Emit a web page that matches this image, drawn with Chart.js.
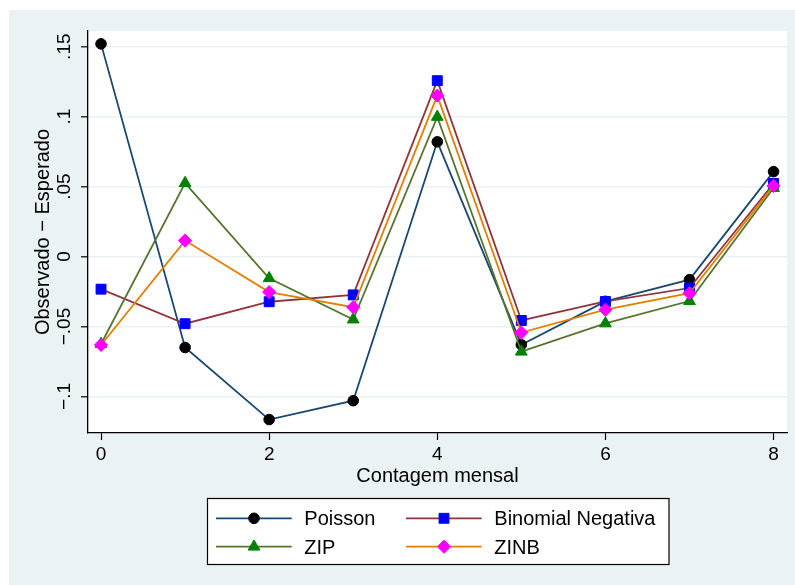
<!DOCTYPE html>
<html>
<head>
<meta charset="utf-8">
<script src="https://cdn.jsdelivr.net/npm/chart.js@4"></script>
<style>
  html, body { margin: 0; padding: 0; background: #ffffff; }
  #wrap { position: absolute; left: 9px; top: 10px; width: 786px; height: 575px; background: #EAF2F3; }
</style>
</head>
<body>
<div id="wrap"><canvas id="residChart" width="786" height="575"></canvas></div>
<script>
// observed - expected by monthly count, four count models
const contagem = [0, 1, 2, 3, 4, 5, 6, 7, 8];
const poisson = [0.152, -0.065, -0.1165, -0.103, 0.082, -0.063, -0.032, -0.0165, 0.0607];
const binomialNeg = [-0.0233, -0.048, -0.0323, -0.0274, 0.1257, -0.0457, -0.0321, -0.0225, 0.0522];
const zip = [-0.0625, 0.0525, -0.0155, -0.045, 0.0998, -0.068, -0.0478, -0.0318, 0.049];
const zinb = [-0.0632, 0.0114, -0.0254, -0.0362, 0.115, -0.0543, -0.038, -0.0262, 0.0505];

const xTicks = [0, 2, 4, 6, 8];
const yTicks = [-0.1, -0.05, 0, 0.05, 0.1, 0.15];
const yTickLabels = ['\u2212.1', '\u2212.05', '0', '.05', '.1', '.15'];

const FONT = '"Liberation Sans", Arial, sans-serif';

function pts(values) {
    return contagem.map((c, i) => ({ x: c, y: values[i] }));
}

const series = [
    { label: 'Poisson', data: poisson, line: '#1A476F', marker: '#000000', style: 'circle', radius: 5.3 },
    { label: 'Binomial Negativa', data: binomialNeg, line: '#90353B', marker: '#0000FF', style: 'rect', radius: 7 },
    { label: 'ZIP', data: zip, line: '#55752F', marker: '#008000', style: 'triangle', radius: 6.8 },
    { label: 'ZINB', data: zinb, line: '#E37E00', marker: '#FF00FF', style: 'rectRot', radius: 6.6 }
];

// white plot region, y tick labels, axis titles and the boxed legend
const decorPlugin = {
    id: 'decor',
    beforeDraw(chart) {
        const { ctx, chartArea: a } = chart;
        ctx.save();
        ctx.fillStyle = '#EAF2F3';
        ctx.fillRect(0, 0, chart.width, chart.height);
        ctx.fillStyle = '#ffffff';
        ctx.fillRect(a.left, a.top, a.right - a.left, a.bottom - a.top);
        ctx.restore();
    },
    afterDraw(chart) {
        const { ctx, chartArea: a } = chart;
        const yScale = chart.scales.y;
        ctx.save();
        ctx.fillStyle = '#000000';

        // rotated y tick labels
        ctx.font = '19px ' + FONT;
        ctx.textAlign = 'center';
        ctx.textBaseline = 'alphabetic';
        yTicks.forEach((v, i) => {
            ctx.save();
            ctx.translate(61, yScale.getPixelForValue(v));
            ctx.rotate(-Math.PI / 2);
            ctx.fillText(yTickLabels[i], 0, 0);
            ctx.restore();
        });

        // y title
        ctx.font = '20px ' + FONT;
        ctx.save();
        ctx.translate(40.3, (a.top + a.bottom) / 2);
        ctx.rotate(-Math.PI / 2);
        ctx.fillText('Observado \u2212 Esperado', 0, 0);
        ctx.restore();

        // x title
        ctx.fillText('Contagem mensal', (a.left + a.right) / 2, 471.7);

        // legend
        const box = { x: 198.5, y: 488.5, w: 461.5, h: 66 };
        ctx.fillStyle = '#ffffff';
        ctx.fillRect(box.x, box.y, box.w, box.h);
        ctx.strokeStyle = '#000000';
        ctx.lineWidth = 1.2;
        ctx.strokeRect(box.x, box.y, box.w, box.h);

        const cols = [207, 397];
        const rows = [508.3, 536.7];
        series.forEach((s, i) => {
            const cx = cols[i % 2];
            const cy = rows[Math.floor(i / 2)];
            ctx.strokeStyle = s.line;
            ctx.lineWidth = 1.8;
            ctx.beginPath();
            ctx.moveTo(cx, cy);
            ctx.lineTo(cx + 75.7, cy);
            ctx.stroke();
            ctx.fillStyle = s.marker;
            ctx.strokeStyle = s.marker;
            ctx.lineWidth = 1;
            Chart.helpers.drawPoint(ctx, { pointStyle: s.style, radius: s.radius, rotation: 0, borderWidth: 1 }, cx + 38, cy);
            ctx.fillStyle = '#000000';
            ctx.font = '20px ' + FONT;
            ctx.textAlign = 'left';
            ctx.textBaseline = 'alphabetic';
            ctx.fillText(s.label, cx + 88.3, cy + 6.8);
        });
        ctx.restore();
    }
};

const ctxResid = document.getElementById('residChart').getContext('2d');
const residChart = new Chart(ctxResid, {
    type: 'line',
    data: {
        datasets: series.map((s, i) => ({
            label: s.label,
            data: pts(s.data),
            borderColor: s.line,
            borderWidth: 1.8,
            backgroundColor: s.marker,
            pointStyle: s.style,
            pointRadius: s.radius,
            pointHoverRadius: s.radius,
            pointBackgroundColor: s.marker,
            pointBorderColor: s.marker,
            pointBorderWidth: 1,
            tension: 0,
            fill: false,
            order: series.length - 1 - i
        }))
    },
    options: {
        responsive: false,
        animation: false,
        layout: { padding: { left: 0, top: 21, right: 7, bottom: 0 } },
        plugins: {
            legend: { display: false },
            tooltip: { enabled: false }
        },
        scales: {
            x: {
                type: 'linear',
                min: -0.155,
                max: 8.16,
                afterBuildTicks(scale) { scale.ticks = xTicks.map(v => ({ value: v })); },
                afterFit(scale) { scale.height = 152; },
                grid: {
                    drawOnChartArea: false,
                    drawTicks: true,
                    tickLength: 7,
                    tickColor: '#000000',
                    tickWidth: 1.2
                },
                border: { display: true, color: '#000000', width: 1.3 },
                ticks: {
                    color: '#000000',
                    font: { family: FONT, size: 19 },
                    padding: 3,
                    maxRotation: 0,
                    callback: v => String(v)
                }
            },
            y: {
                type: 'linear',
                min: -0.1261,
                max: 0.1612,
                afterBuildTicks(scale) { scale.ticks = yTicks.map(v => ({ value: v })); },
                afterFit(scale) { scale.width = 79; },
                grid: {
                    color: '#EAF2F3',
                    lineWidth: 1.6,
                    drawTicks: true,
                    tickLength: 7,
                    tickColor: '#000000',
                    tickWidth: 1.2
                },
                border: { display: true, color: '#000000', width: 1.3 },
                ticks: { display: false }
            }
        }
    },
    plugins: [decorPlugin]
});
</script>
</body>
</html>
